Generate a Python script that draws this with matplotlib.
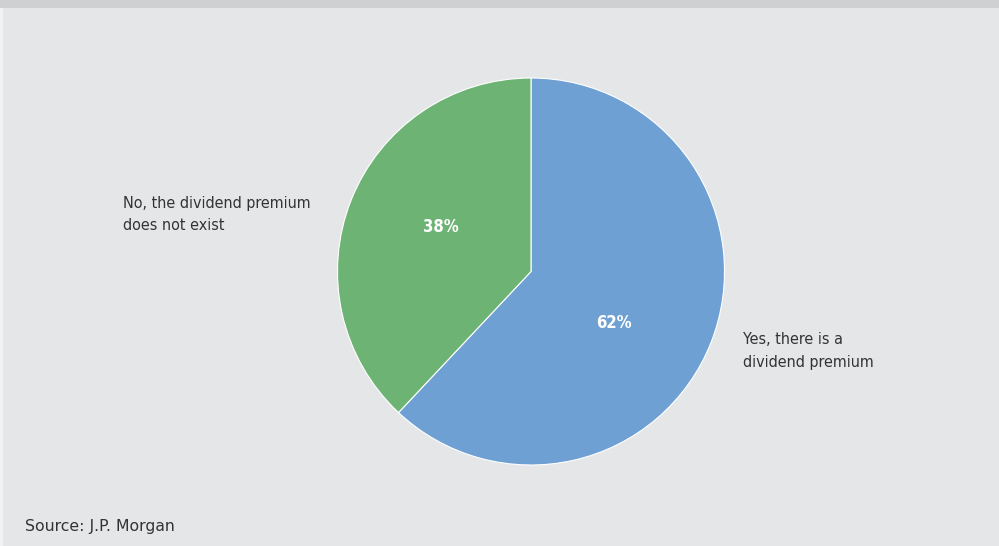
import matplotlib
matplotlib.use("Agg")
import matplotlib.pyplot as plt
from matplotlib.patches import Rectangle

# Survey answers
categories = ["Yes, there is a\ndividend premium", "No, the dividend premium\ndoes not exist"]
shares = [62, 38]
colors = ["#6fa0d4", "#6db374"]
source_note = "Source: J.P. Morgan"

W, H = 999, 546
TEXT_COLOR = "#333333"
NARROW = dict(family="DejaVu Sans", fontstretch="condensed")

fig = plt.figure(figsize=(W / 100, H / 100), dpi=100)
fig.patch.set_facecolor("#e5e6e8")
ax = fig.add_axes([0, 0, 1, 1])

# header band and left edge strip
ax.add_patch(Rectangle((0, H - 8), W, 8, color="#cfd0d2", lw=0, zorder=0))
ax.add_patch(Rectangle((0, 0), 3, H - 8, color="#f2f2f3", lw=0, zorder=0))

cx, cy, r = 531, H - 271.5, 193.5
ax.pie(
    shares,
    colors=colors,
    startangle=90,
    counterclock=False,
    center=(cx, cy),
    radius=r,
    wedgeprops=dict(edgecolor="white", linewidth=0.8),
    frame=True,
)
ax.set_xlim(0, W)
ax.set_ylim(0, H)
ax.set_aspect("equal")
ax.axis("off")

# percentage labels inside the slices
ax.text(614, H - 323, f"{shares[0]}%", color="white", fontsize=12,
        fontweight="bold", ha="center", va="center", **NARROW)
ax.text(441, H - 227, f"{shares[1]}%", color="white", fontsize=12,
        fontweight="bold", ha="center", va="center", **NARROW)

# category labels beside the pie
ax.text(743, H - 351, categories[0], color=TEXT_COLOR, fontsize=11.5,
        ha="left", va="center", linespacing=1.6, **NARROW)
ax.text(123, H - 214.5, categories[1], color=TEXT_COLOR, fontsize=11.5,
        ha="left", va="center", linespacing=1.6, **NARROW)

ax.text(25, H - 527, source_note, color=TEXT_COLOR, fontsize=11.3,
        family="DejaVu Sans", ha="left", va="center")

fig.savefig("out.png", dpi=100, facecolor=fig.get_facecolor())
